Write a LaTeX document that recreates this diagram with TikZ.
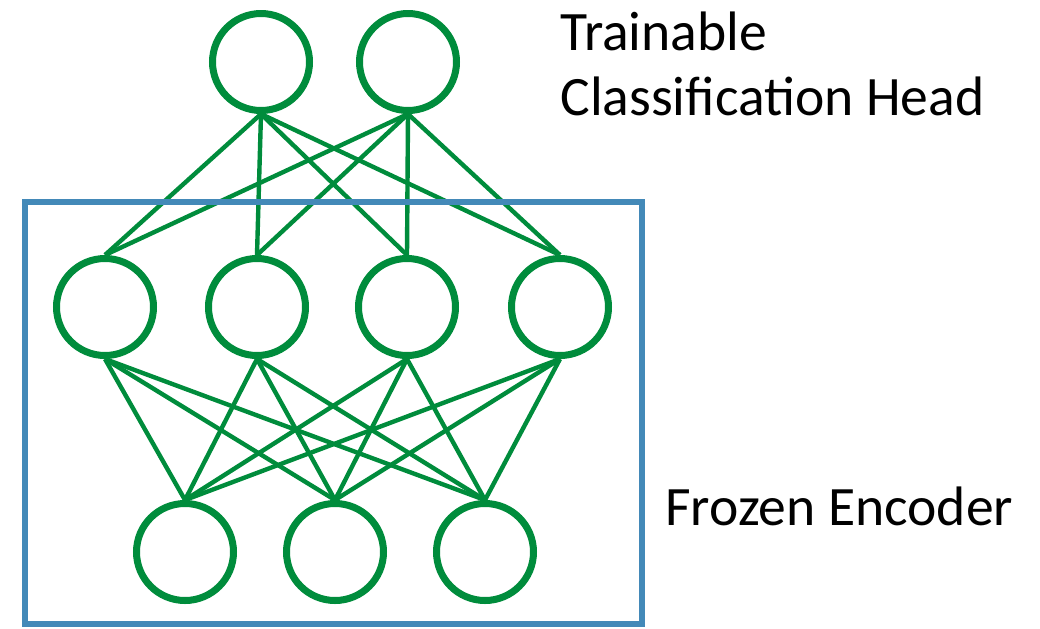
\documentclass[tikz,border=0pt]{standalone}
\usepackage{fontspec}
\setmainfont{Carlito}
\usetikzlibrary{positioning}

\definecolor{netgreen}{RGB}{0,140,60}
\definecolor{boxblue}{RGB}{67,137,184}

\begin{document}
\begin{tikzpicture}[
  x=0.5pt, y=-0.5pt,
  node distance=75pt, on grid,
  unit/.style={circle, draw=netgreen, line width=3.5pt, fill=white, minimum size=48.5pt, inner sep=0pt},
  link/.style={draw=netgreen, line width=2.2pt},
  frame/.style={draw=boxblue, line width=3pt},
  note/.style={inner sep=0pt, anchor=base west, font=\fontsize{27.8}{33}\selectfont}
]
\useasboundingbox (0,0) rectangle (1040,628);

% head
\node[unit] (top1) at (261,62) {};
\node[unit] (top2) [right=73.5pt of top1] {};

% encoder layers
\node[unit] (mid1) at (105,307) {};
\node[unit] (mid2) [right=76pt of mid1] {};
\node[unit] (mid3) [right=75pt of mid2] {};
\node[unit] (mid4) [right=76.5pt of mid3] {};

\node[unit] (bot1) at (185,552) {};
\node[unit] (bot2) [right=of bot1] {};
\node[unit] (bot3) [right=of bot2] {};

\foreach \a in {top1,top2}
  \foreach \b in {mid1,mid2,mid3,mid4}
    \draw[link] (\a.south) -- (\b.north);
\foreach \a in {mid1,mid2,mid3,mid4}
  \foreach \b in {bot1,bot2,bot3}
    \draw[link] (\a.south) -- (\b.north);

\draw[frame] (25,202) rectangle (642,624);

\node[note] (train) at (560,50) {Trainable};
\node[note] (head) at (560,115) {Classification Head};
\node[note] (enc) at (665,525) {Frozen Encoder};

\end{tikzpicture}
\end{document}
